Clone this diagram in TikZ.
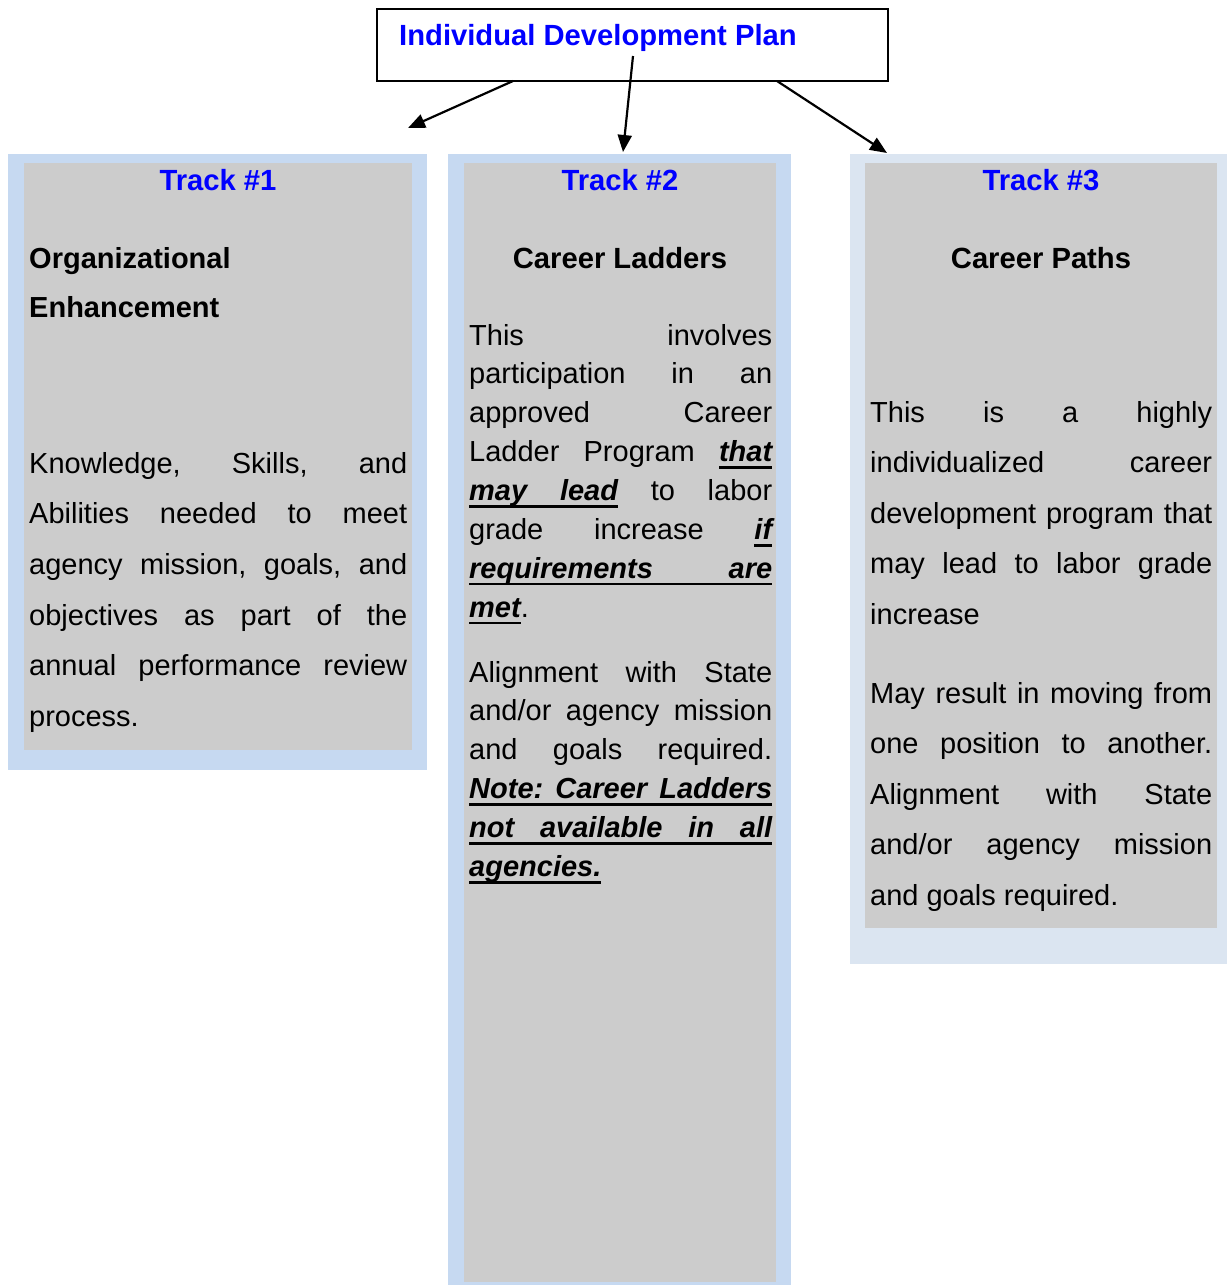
\documentclass[tikz,border=0pt]{standalone}
\usepackage{fontspec}
\setmainfont{Liberation Sans}
\usetikzlibrary{arrows.meta}
\setlength{\parindent}{0pt}
\frenchspacing

\definecolor{paneblue}{HTML}{C6D9F1}
\definecolor{panepale}{HTML}{DBE5F1}
\definecolor{panegrey}{HTML}{CCCCCC}
\definecolor{titleblue}{HTML}{0000FF}

% a justified line spanning the full text width (font interword glue)
\newcommand{\jline}[1]{{\spaceskip=0pt\xspaceskip=0pt\makebox[\linewidth][s]{#1}}}
% a closing line set with natural spacing
\newcommand{\lline}[1]{{\spaceskip=0pt\xspaceskip=0pt\leavevmode#1}}
% bold italic
\newcommand{\bi}{\bfseries\itshape}
% underlined word
\newcommand{\ulw}[1]{\leavevmode\setbox0\hbox{#1}\rlap{\rule[-7pt]{\wd0}{2.8pt}}\box0}
% underlined, stretchable interword space
\newcommand{\uls}{\leaders\hrule height -4.2pt depth 7pt\hskip\fontdimen2\font plus\fontdimen3\font minus\fontdimen4\font\relax}

\begin{document}
\begin{tikzpicture}[x=1pt,y=-1pt,
  panel/.style={anchor=north west, inner sep=0pt, outer sep=0pt, draw=none},
  hdr/.style={anchor=base, inner sep=0pt, text=titleblue,
    font=\fontsize{29.2}{35}\selectfont\bfseries},
  subhdr/.style={anchor=base, inner sep=0pt,
    font=\fontsize{29.2}{35}\selectfont\bfseries},
  body/.style={anchor=base west, inner sep=0pt, text width=#1, align=justify},
  link/.style={line width=2.2pt, -{Triangle[length=17pt,width=14pt]}},
]
\useasboundingbox (0,0) rectangle (1227,1285);

% plan box
\node[panel, draw=black, line width=1.6pt, minimum width=511pt, minimum height=72pt]
  (idp) at (377,9) {};
\node[anchor=base west, inner sep=0pt, text=titleblue,
  font=\fontsize{29.2}{35}\selectfont\bfseries]
  (idptitle) at (399,45) {Individual Development Plan};

% track panels: coloured frame with grey body
\node[panel, fill=paneblue, minimum width=419pt, minimum height=616pt] (track1) at (8,154) {};
\node[panel, fill=panegrey, minimum width=388pt, minimum height=587pt] (track1in) at (24,163) {};
\node[panel, fill=paneblue, minimum width=343pt, minimum height=1131pt] (track2) at (448,154) {};
\node[panel, fill=panegrey, minimum width=312pt, minimum height=1119pt] (track2in) at (464,163) {};
\node[panel, fill=panepale, minimum width=377pt, minimum height=810pt] (track3) at (850,154) {};
\node[panel, fill=panegrey, minimum width=352pt, minimum height=765pt] (track3in) at (865,163) {};

% headings
\node[hdr] (h1) at (218,190) {Track \#1};
\node[hdr] (h2) at (620,190) {Track \#2};
\node[hdr] (h3) at (1041,190) {Track \#3};

% track 1 text
\node[body=378pt, font=\fontsize{29}{49}\selectfont\bfseries]
  (t1title) at (29,268) {Organizational\\Enhancement};
\node[body=378pt, font=\fontsize{29}{50.7}\selectfont]
  (t1text) at (29,473) {%
  \jline{Knowledge, Skills, and}\\
  \jline{Abilities needed to meet}\\
  \jline{agency mission, goals, and}\\
  \jline{objectives as part of the}\\
  \jline{annual performance review}\\
  \lline{process.}};

% track 2 text
\node[subhdr] (t2title) at (620,268) {Career Ladders};
\node[body=303pt, font=\fontsize{29}{38.9}\selectfont]
  (t2texta) at (469,345) {%
  \jline{This involves}\\
  \jline{participation in an}\\
  \jline{approved Career}\\
  \jline{Ladder Program {\bi\ulw{that}}}\\
  \jline{{\bi\ulw{may}\uls\ulw{lead}} to labor}\\
  \jline{grade increase {\bi\ulw{if}}}\\
  \jline{{\bi\ulw{requirements}\uls\ulw{are}}}\\
  \lline{{\bi\ulw{met}}.}};
\node[body=303pt, font=\fontsize{29}{38.9}\selectfont]
  (t2textb) at (469,682) {%
  \jline{Alignment with State}\\
  \jline{and/or agency mission}\\
  \jline{and goals required.}\\
  \jline{{\bi\ulw{Note:}\uls\ulw{Career}\uls\ulw{Ladders}}}\\
  \jline{{\bi\ulw{not}\uls\ulw{available}\uls\ulw{in}\uls\ulw{all}}}\\
  \lline{{\bi\ulw{agencies.}}}};

% track 3 text
\node[subhdr] (t3title) at (1041,268) {Career Paths};
\node[body=342pt, font=\fontsize{29}{50.5}\selectfont]
  (t3texta) at (870,422) {%
  \jline{This is a highly}\\
  \jline{individualized career}\\
  \jline{development program that}\\
  \jline{may lead to labor grade}\\
  \lline{increase}};
\node[body=342pt, font=\fontsize{29}{50.5}\selectfont]
  (t3textb) at (870,703) {%
  \jline{May result in moving from}\\
  \jline{one position to another.}\\
  \jline{Alignment with State}\\
  \jline{and/or agency mission}\\
  \lline{and goals required.}};

% connectors from the plan box towards the tracks
\coordinate (a1s) at (513,81);
\coordinate (a1e) at (408,128);
\coordinate (a2s) at (633,56);
\coordinate (a2e) at (623,152);
\coordinate (a3s) at (777,81);
\coordinate (a3e) at (887,153);
\draw[link] (a1s) -- (a1e);
\draw[link] (a2s) -- (a2e);
\draw[link] (a3s) -- (a3e);
\end{tikzpicture}
\end{document}
